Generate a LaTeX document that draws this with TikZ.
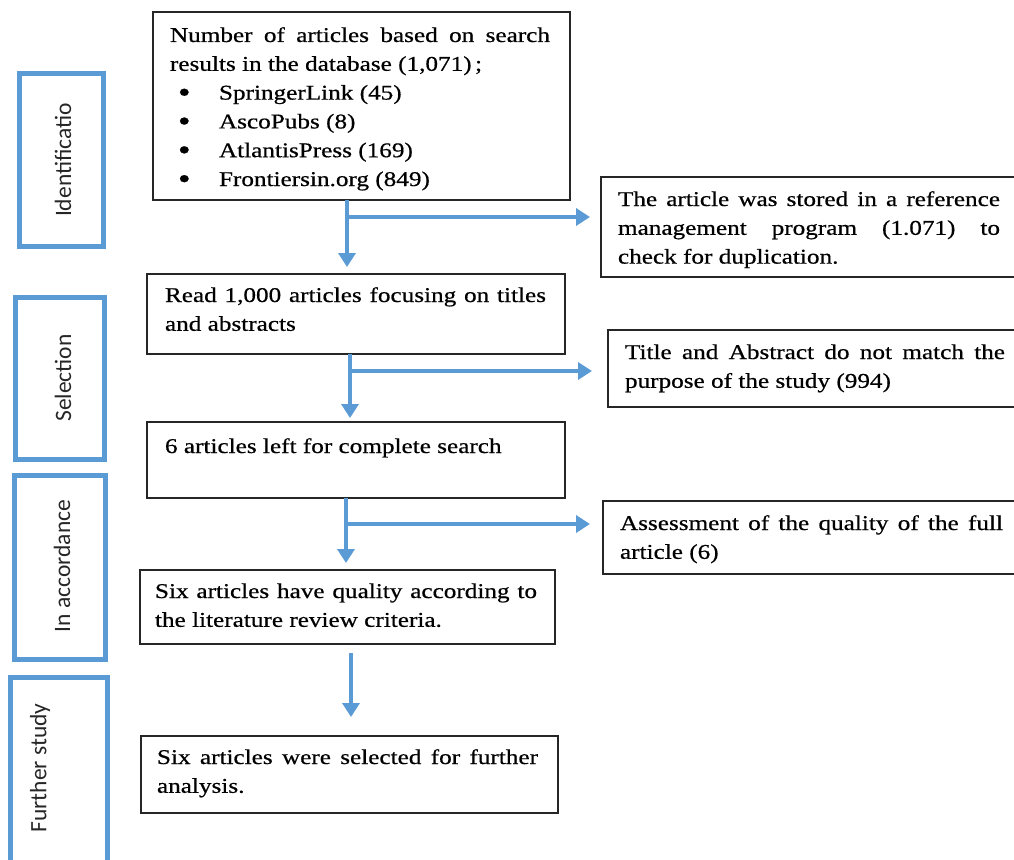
\documentclass[tikz,border=0pt]{standalone}
\usepackage{fontspec}
\setmainfont[FakeStretch=1.2,FakeBold=0.6]{Liberation Serif}
\newfontfamily\labfont{Carlito}
\usetikzlibrary{arrows.meta,calc}
\definecolor{accblue}{HTML}{5B9BD5}
\definecolor{boxline}{HTML}{262626}
\newcommand{\bul}{\makebox[49pt][l]{\hspace{8pt}\raisebox{-2.6pt}{\fontsize{30}{30}\selectfont\textbullet}}}
\tikzset{
  box/.style={draw=boxline, line width=1.3pt, anchor=north west, inner sep=0pt, outer sep=0pt},
  txt/.style={anchor=base west, inner sep=0pt, outer sep=0pt, font=\fontsize{21}{28.8}\selectfont, text=black},
  side/.style={draw=accblue, line width=5pt},
  lab/.style={rotate=90, inner sep=0pt, font=\labfont\fontsize{23.5}{26}\selectfont, text=black!85},
  arr/.style={draw=accblue, line width=4pt, -{Triangle[length=14pt,width=17pt]}}
}
\begin{document}
\begin{tikzpicture}[x=1pt,y=-1pt]
\useasboundingbox (0,0) rectangle (1014,859);
\clip (0,0) rectangle (1014,859);
% left stage boxes
\draw[side] (19,73) rectangle (103,246);
\draw[side] (15,297) rectangle (104,459);
\draw[side] (14,475) rectangle (105,659);
\draw[side] (10,677) rectangle (107,880);
\node[lab] (l1) at (63,160) {Identificatio};
\node[lab] (l2) at (63,378) {Selection};
\node[lab] (l3) at (62,566) {In accordance};
\node[lab] (l4) at (40,768) {Further study};
% main boxes
\node[box, minimum width=417pt, minimum height=188pt] (b1) at (153,12) {};
\node[box, minimum width=418pt, minimum height=80pt] (b2) at (147,274) {};
\node[box, minimum width=418pt, minimum height=76pt] (b3) at (147,422) {};
\node[box, minimum width=415pt, minimum height=74pt] (b4) at (140,570) {};
\node[box, minimum width=417pt, minimum height=77pt] (b5) at (141,736) {};
% right boxes
\node[box, minimum width=440pt, minimum height=100pt] (r1) at (601,177) {};
\node[box, minimum width=440pt, minimum height=77pt] (r2) at (608,330) {};
\node[box, minimum width=440pt, minimum height=73pt] (r3) at (603,501) {};
% texts
\node[txt] (t1) at (170,42) {\parbox[t]{380pt}{\setlength{\parindent}{0pt}Number of articles based on search\linebreak results in the database (1,071)\,;\par
\bul SpringerLink (45)\par
\bul AscoPubs (8)\par
\bul AtlantisPress (169)\par
\bul Frontiersin.org (849)}};
\node[txt] (t2) at (165,302) {\parbox[t]{381pt}{\setlength{\parindent}{0pt}Read 1,000 articles focusing on titles\linebreak and abstracts}};
\node[txt] (t3) at (165,453) {6 articles left for complete search};
\node[txt] (t4) at (155,598) {\parbox[t]{382pt}{\setlength{\parindent}{0pt}Six articles have quality according to\linebreak the literature review criteria.}};
\node[txt] (t5) at (157,764) {\parbox[t]{381pt}{\setlength{\parindent}{0pt}Six articles were selected for further\linebreak analysis.}};
\node[txt] (u1) at (618,206) {\parbox[t]{382pt}{\setlength{\parindent}{0pt}The article was stored in a reference\linebreak management program (1.071) to\linebreak check for duplication.}};
\node[txt] (u2) at (625,359) {\parbox[t]{380pt}{\setlength{\parindent}{0pt}Title and Abstract do not match the\linebreak purpose of the study (994)}};
\node[txt] (u3) at (620,530) {\parbox[t]{383pt}{\setlength{\parindent}{0pt}Assessment of the quality of the full\linebreak article (6)}};
% junctions
\coordinate (j1) at (347,217);
\coordinate (j2) at (350,371);
\coordinate (j3) at (346,524);
\coordinate (j4) at (351,653);
% arrows
\draw[arr] (b1.south -| j1) -- ([yshift=7pt]b2.north -| j1);
\draw[arr] (j1) -- ([xshift=-11pt]r1.west |- j1);
\draw[arr] (b2.south -| j2) -- ([yshift=4pt]b3.north -| j2);
\draw[arr] (j2) -- ([xshift=-16pt]r2.west |- j2);
\draw[arr] (b3.south -| j3) -- ([yshift=7pt]b4.north -| j3);
\draw[arr] (j3) -- ([xshift=-13pt]r3.west |- j3);
\draw[arr] (j4) -- ([yshift=19pt]b5.north -| j4);
\end{tikzpicture}
\end{document}
